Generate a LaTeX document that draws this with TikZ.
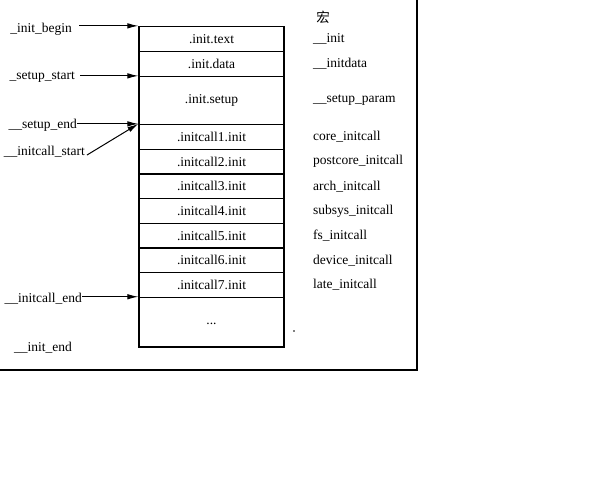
\documentclass[tikz,border=0pt]{standalone}
\usepackage{fontspec}
\setmainfont{Liberation Serif}
\newfontfamily\cjk{Noto Sans CJK SC}
\usetikzlibrary{arrows.meta}
\begin{document}
\begin{tikzpicture}[x=1pt,y=-1pt,
  every node/.style={font=\fontsize{13.5pt}{15pt}\selectfont, inner sep=0pt},
  seg/.style={draw, line width=1.3pt, minimum width=145pt, anchor=center},
  lbl/.style={anchor=east},
  mac/.style={anchor=west},
  arr/.style={line width=1pt, -{Latex[length=11pt,width=5.5pt]}}]
\useasboundingbox (0,0) rectangle (592,496);
% frame
\draw[line width=1.3pt] (417,0) -- (417,370) -- (0,370);
% memory segments
\node[seg, minimum height=25pt] (t) at (211.5,39) {.init.text};
\node[seg, minimum height=25pt] (d) at (211.5,64) {.init.data};
\node[seg, minimum height=48pt] (s) at (211.5,100.5) {.init.setup};
\node[seg, minimum height=24.7pt] (c1) at (211.5,136.85) {.initcall1.init};
\node[seg, minimum height=24.7pt] (c2) at (211.5,161.55) {.initcall2.init};
\node[seg, minimum height=24.7pt] (c3) at (211.5,186.25) {.initcall3.init};
\node[seg, minimum height=24.7pt] (c4) at (211.5,210.95) {.initcall4.init};
\node[seg, minimum height=24.7pt] (c5) at (211.5,235.65) {.initcall5.init};
\node[seg, minimum height=24.7pt] (c6) at (211.5,260.35) {.initcall6.init};
\node[seg, minimum height=24.7pt] (c7) at (211.5,285.05) {.initcall7.init};
\node[seg, minimum height=49.6pt] (dd) at (211.5,322.2) {\raisebox{-4pt}{...}};
% left labels
\node[lbl] (ib) at (72,29) {\_init\_begin};
\node[lbl] (ss) at (75,77) {\_setup\_start};
\node[lbl] (se) at (77,125) {\_\_setup\_end};
\node[lbl] (is) at (85,152) {\_\_initcall\_start};
\node[lbl] (ie) at (82,298.5) {\_\_initcall\_end};
\node[lbl] (ien) at (72,348) {\_\_init\_end};
% arrows
\draw[arr] (ib.east |- t.north) ++(7,0) -- (t.north west);
\draw[arr] (ss.east |- s.north) ++(5,0) -- (s.north west);
\draw[arr] (se.east |- c1.north) -- (c1.north west);
\draw[arr] ([xshift=2pt,yshift=-3pt]is.east) -- (c1.north west);
\draw[arr] (ie.east |- dd.north) -- (dd.north west);
% macros
\node (hong) at (323,17) {\cjk 宏};
\node[mac] (m1) at (313,39) {\_\_init};
\node[mac] (m2) at (313,64) {\_\_initdata};
\node[mac] (m3) at (313,100.5) {\_\_setup\_param};
\node[mac] (m4) at (313,136.85) {core\_initcall};
\node[mac] (m5) at (313,161.55) {postcore\_initcall};
\node[mac] (m6) at (313,186.25) {arch\_initcall};
\node[mac] (m7) at (313,210.95) {subsys\_initcall};
\node[mac] (m8) at (313,235.65) {fs\_initcall};
\node[mac] (m9) at (313,260.35) {device\_initcall};
\node[mac] (m10) at (313,285.05) {late\_initcall};
\fill (294,331) circle (0.8pt);
\end{tikzpicture}
\end{document}
